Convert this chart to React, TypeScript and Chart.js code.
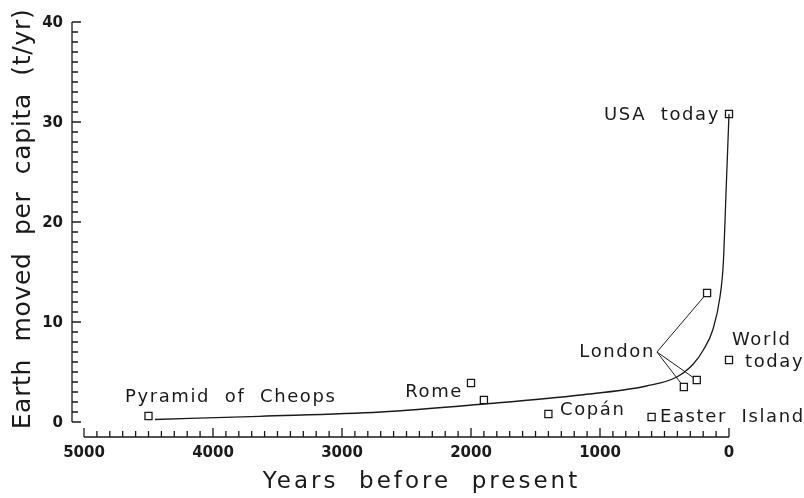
import React, { useEffect, useRef } from 'react';
import { Chart, registerables } from 'chart.js';

Chart.register(...registerables);

// ---- data ----
const curveYears = [4450, 3640, 2700, 1900, 1150, 640, 405, 277, 199, 126, 70, 44, 22, 0];
const curveValues = [0.25, 0.57, 1.0, 1.8, 2.7, 3.6, 4.5, 5.8, 7.2, 9.2, 12.5, 15.9, 23.3, 30.8];

const siteNames = ['Pyramid of Cheops', 'Rome', 'Rome', 'Copán', 'Easter Island', 'London', 'London', 'London', 'World today', 'USA today'];
const siteYears = [4500, 2000, 1900, 1400, 600, 170, 350, 250, 0, 0];
const siteValues = [0.6, 3.9, 2.2, 0.8, 0.5, 12.9, 3.5, 4.2, 6.2, 30.8];

const xTickValues = [5000, 4000, 3000, 2000, 1000, 0];
const yTickValues = [0, 10, 20, 30, 40];

const labelTexts = ['Pyramid  of  Cheops', 'Rome', 'Copán', 'Easter  Island', 'London', 'World', 'today', 'USA  today'];
const labelYears = [4682, 2062, 1310, 535, 574, -23, -124, 70];
const labelValues = [2.5, 3.0, 1.17, 0.44, 7.0, 8.17, 6.0, 30.7];
const labelAligns = ['left', 'right', 'left', 'left', 'right', 'left', 'left', 'right'];

const xTitle = 'Years  before  present';
const yTitle = 'Earth  moved  per  capita  (t/yr)';

// ---- style ----
const INK = '#1a1a1a';
const FAMILY = '"DejaVu Sans", sans-serif';
const TICK_FONT = `bold 15px ${FAMILY}`;

const decorPlugin = {
  id: 'decor',
  afterDatasetsDraw(chart: any) {
    const { ctx, chartArea } = chart;
    const x = chart.scales.x;
    const y = chart.scales.y;
    ctx.save();
    ctx.strokeStyle = INK;
    ctx.fillStyle = INK;
    ctx.lineWidth = 1.3;

    // y axis (detached, ticks inward)
    const ax = chartArea.left - 12;
    const y0 = yTickValues[0];
    const y1 = yTickValues[yTickValues.length - 1];
    ctx.beginPath();
    ctx.moveTo(ax, y.getPixelForValue(y0));
    ctx.lineTo(ax, y.getPixelForValue(y1));
    for (let v = y0; v <= y1; v += 1) {
      const py = y.getPixelForValue(v);
      const major = yTickValues.includes(v);
      ctx.moveTo(ax, py);
      ctx.lineTo(ax + (major ? 9 : 6), py);
    }
    ctx.stroke();

    // y tick labels
    ctx.font = TICK_FONT;
    ctx.textAlign = 'right';
    ctx.textBaseline = 'middle';
    yTickValues.forEach((v) => {
      ctx.fillText(String(v), ax - 9, y.getPixelForValue(v) + 1);
    });

    // x axis (detached, ticks upward)
    const ay = chartArea.bottom + 15;
    const xa = xTickValues[0];
    const xb = xTickValues[xTickValues.length - 1];
    ctx.beginPath();
    ctx.moveTo(x.getPixelForValue(xa), ay);
    ctx.lineTo(x.getPixelForValue(xb), ay);
    for (let v = xb; v <= xa; v += 100) {
      const px = x.getPixelForValue(v);
      const major = xTickValues.includes(v);
      ctx.moveTo(px, ay);
      ctx.lineTo(px, ay - (major ? 9 : 6));
    }
    ctx.stroke();

    // London connectors
    const li = labelTexts.indexOf('London');
    const sx = x.getPixelForValue(labelYears[li]) + 2;
    const sy = y.getPixelForValue(labelValues[li]);
    ctx.lineWidth = 1;
    ctx.beginPath();
    siteNames.forEach((n, i) => {
      if (n !== 'London') return;
      const tx = x.getPixelForValue(siteYears[i]);
      const ty = y.getPixelForValue(siteValues[i]);
      const dx = tx - sx;
      const dy = ty - sy;
      const d = Math.hypot(dx, dy);
      ctx.moveTo(sx, sy);
      ctx.lineTo(tx - (dx / d) * 4, ty - (dy / d) * 4);
    });
    ctx.stroke();

    // annotation labels
    ctx.font = `18px ${FAMILY}`;
    (ctx as any).letterSpacing = '1.6px';
    ctx.textBaseline = 'middle';
    labelTexts.forEach((t, i) => {
      ctx.textAlign = labelAligns[i] as CanvasTextAlign;
      ctx.fillText(t, x.getPixelForValue(labelYears[i]), y.getPixelForValue(labelValues[i]));
    });

    // axis titles
    ctx.textAlign = 'center';
    ctx.font = `23px ${FAMILY}`;
    (ctx as any).letterSpacing = '3px';
    ctx.fillText(xTitle, (chartArea.left + chartArea.right) / 2 + 15, 482);

    ctx.font = `25px ${FAMILY}`;
    (ctx as any).letterSpacing = '0.7px';
    ctx.translate(23, 219);
    ctx.rotate(-Math.PI / 2);
    ctx.fillText(yTitle, 0, 0);
    ctx.restore();
  },
};

export default function App() {
  const ref = useRef<HTMLCanvasElement | null>(null);
  useEffect(() => {
    if (!ref.current) return;
    const tickFont = { family: FAMILY, size: 15, weight: 'bold' as const };
    const chart = new Chart(ref.current, {
      type: 'line',
      data: {
        datasets: [
          {
            label: 'trend',
            data: curveYears.map((v, i) => ({ x: v, y: curveValues[i] })),
            borderColor: INK,
            borderWidth: 1.3,
            pointRadius: 0,
            cubicInterpolationMode: 'monotone',
            fill: false,
            clip: false as any,
          },
          {
            label: 'sites',
            data: siteYears.map((v, i) => ({ x: v, y: siteValues[i] })),
            showLine: false,
            pointStyle: 'rect',
            pointRadius: 5,
            pointBorderWidth: 1.3,
            pointBorderColor: INK,
            pointBackgroundColor: 'rgba(0,0,0,0)',
            borderColor: INK,
            clip: false as any,
          },
        ],
      },
      options: {
        animation: false,
        responsive: true,
        maintainAspectRatio: false,
        layout: { autoPadding: false, padding: { top: 22, right: 75, left: 0, bottom: 0 } },
        plugins: { legend: { display: false }, tooltip: { enabled: false } },
        scales: {
          x: {
            type: 'linear',
            reverse: true,
            min: 0,
            max: 5000,
            grid: { display: false, drawTicks: false },
            border: { display: false },
            ticks: {
              stepSize: 1000,
              padding: 22,
              font: tickFont,
              color: INK,
              maxRotation: 0,
              callback: (v: any) => String(v),
            },
            afterFit: (s: any) => { s.height = 76; },
          },
          y: {
            min: 0,
            max: 40,
            grid: { display: false, drawTicks: false },
            border: { display: false },
            ticks: { stepSize: 10, display: false },
            afterFit: (s: any) => { s.width = 84; },
          },
        },
      },
      plugins: [decorPlugin],
    });
    return () => chart.destroy();
  }, []);
  return (
    <div style={{ position: 'fixed', left: 0, top: 0, width: 804, height: 498, background: '#fff' }}>
      <canvas ref={ref} />
    </div>
  );
}
